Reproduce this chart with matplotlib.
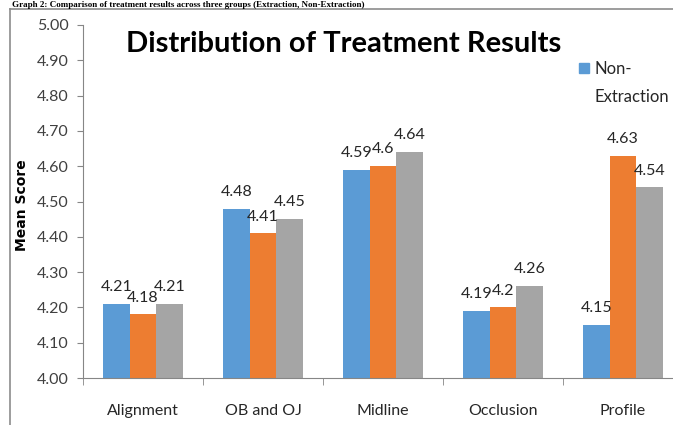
import matplotlib
matplotlib.use("Agg")
import matplotlib.pyplot as plt
from matplotlib.patches import Patch
from matplotlib.lines import Line2D
import numpy as np

categories = ["Alignment", "OB and OJ", "Midline", "Occlusion", "Profile"]
series_names = ["Non-Extraction", "Extraction", "Combined"]
non_extraction = [4.21, 4.48, 4.59, 4.19, 4.15]
extraction = [4.18, 4.41, 4.60, 4.20, 4.63]
combined = [4.21, 4.45, 4.64, 4.26, 4.54]
label_text = [
    ["4.21", "4.48", "4.59", "4.19", "4.15"],
    ["4.18", "4.41", "4.6", "4.2", "4.63"],
    ["4.21", "4.45", "4.64", "4.26", "4.54"],
]
yticks = [4.00, 4.10, 4.20, 4.30, 4.40, 4.50, 4.60, 4.70, 4.80, 4.90, 5.00]
colors = ["#5B9BD5", "#ED7D31", "#A5A5A5"]

plt.rcParams['font.family'] = ['Lato', 'DejaVu Sans']

W, H = 673, 425
fig = plt.figure(figsize=(W / 100, H / 100), dpi=100)

# header text of the page (cropped in the source)
fig.text(12 / W, 1 - 1 / H, "Graph 2: Comparison of treatment results across three groups (Extraction, Non-Extraction)",
         fontsize=6.5, fontweight='bold', family='Liberation Serif', ha='left', va='top')
# chart border
fig.add_artist(Line2D([10 / W, 1], [1 - 9 / H, 1 - 9 / H], color='#8c8c8c', lw=1.2, transform=fig.transFigure))
fig.add_artist(Line2D([10 / W, 10 / W], [0, 1 - 9 / H], color='#8c8c8c', lw=1.2, transform=fig.transFigure))

left, right, top, bottom = 83, 683, 25, 378
ax = fig.add_axes([left / W, 1 - bottom / H, (right - left) / W, (bottom - top) / H])

x = np.arange(len(categories))
bw = 0.222
data = [non_extraction, extraction, combined]
for i, vals in enumerate(data):
    xs = x + (i - 1) * bw
    ax.bar(xs, [v - 4.0 for v in vals], bw, bottom=4.0, color=colors[i], label=series_names[i])
    for xi, v, t in zip(xs, vals, label_text[i]):
        ax.annotate(t, (xi, v), xytext=(0, 7), textcoords='offset points',
                    ha='center', va='bottom', fontsize=11.5, color='#262626')

ax.set_ylim(4.0, 5.0)
ax.set_xlim(-0.5, len(categories) - 0.5)
ax.set_yticks(yticks)
ax.set_yticklabels([f"{t:.2f}" for t in yticks])
ax.set_xticks(x)
ax.set_xticklabels(categories)
ax.set_xticks(np.arange(len(categories) + 1) - 0.5, minor=True)
ax.tick_params(axis='x', which='major', length=0, pad=19, labelsize=11.5, labelcolor='#262626')
ax.tick_params(axis='x', which='minor', length=5, color='#868686')
ax.tick_params(axis='y', length=4.5, color='#868686', labelsize=11.5, labelcolor='#404040', pad=6)
for s in ['top', 'right']:
    ax.spines[s].set_visible(False)
ax.spines['left'].set_color('#868686')
ax.spines['bottom'].set_color('#868686')

ax.set_ylabel("Mean Score", fontsize=10, fontweight='bold', family='DejaVu Sans')
ax.yaxis.set_label_coords(-54 / (right - left), 0.49)

fig.text(344 / W, 1 - 44 / H, "Distribution of Treatment Results", fontsize=21,
         fontweight='bold', ha='center', va='center', color='black')

# legend: only the first entry is visible in the (cropped) source; its label wraps
name_parts = series_names[0].split("-", 1)
handles = [Patch(color=colors[0]), Patch(color='none')]
leg = fig.legend(handles, [name_parts[0] + "-", name_parts[1]], loc='upper left',
                 bbox_to_anchor=(579 / W, 1 - 61 / H),
                 frameon=False, fontsize=12, handlelength=0.6, handleheight=0.6, handletextpad=0.3,
                 borderaxespad=0, borderpad=0, labelspacing=0.75)
for t in leg.get_texts():
    t.set_color('#262626')

fig.savefig("out.png", dpi=100)
